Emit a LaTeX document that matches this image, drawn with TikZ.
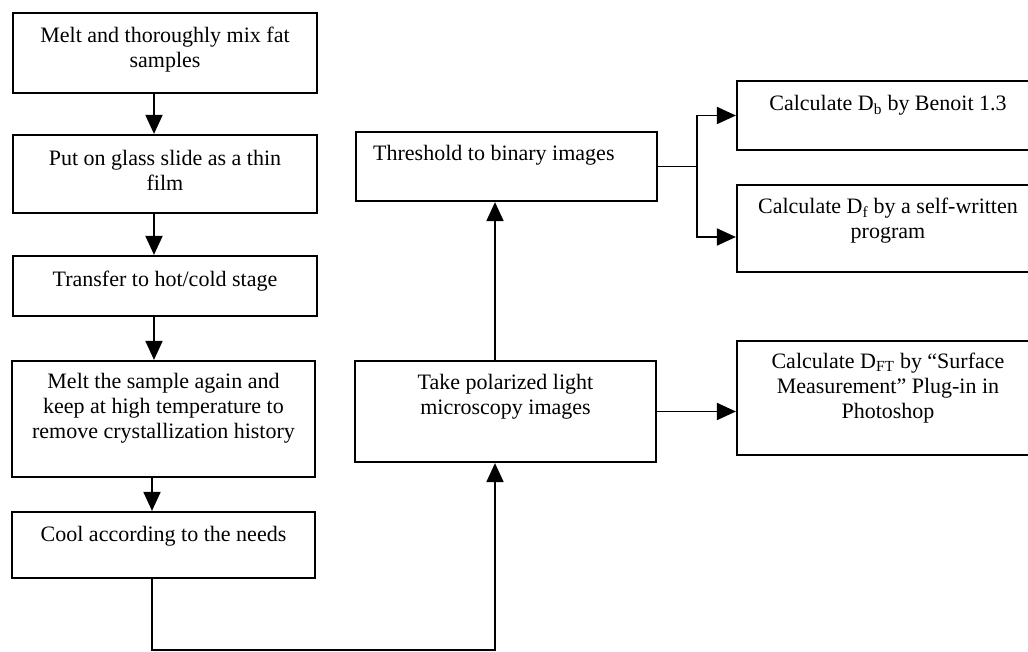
\documentclass[tikz,border=0pt]{standalone}
\usepackage{fontspec}
\setmainfont{Liberation Serif}
\usetikzlibrary{arrows.meta}
\begin{document}
\begin{tikzpicture}[x=1pt,y=-1pt,
  box/.style={draw, line width=2.2pt, inner sep=0pt},
  txt/.style={font=\fontsize{22}{25}\selectfont, align=center, inner sep=0pt, anchor=base},
  link/.style={line width=1.9pt},
  arr/.style={link, -{Triangle[width=17pt,length=19pt]}}]
\clip (0,0) rectangle (1028,652);
\fill[white] (0,0) rectangle (1028,652);
% boxes
\node[box, minimum width=304pt, minimum height=80pt]  (b1)  at (165,53) {};
\node[box, minimum width=304pt, minimum height=78pt]  (b2)  at (165,174) {};
\node[box, minimum width=304pt, minimum height=60pt]  (b3)  at (165,286) {};
\node[box, minimum width=303pt, minimum height=116pt] (b4)  at (163.5,419) {};
\node[box, minimum width=303pt, minimum height=66pt]  (b5)  at (163.5,545) {};
\node[box, minimum width=301pt, minimum height=101pt] (b6)  at (505.5,411.5) {};
\node[box, minimum width=301pt, minimum height=69pt]  (b7)  at (506.5,166.5) {};
\node[box, minimum width=302pt, minimum height=69pt]  (b8)  at (888,115.5) {};
\node[box, minimum width=302pt, minimum height=87pt]  (b9)  at (888,228.5) {};
\node[box, minimum width=302pt, minimum height=114pt] (b10) at (888,398) {};
% texts (base anchor = baseline of the last line)
\node[txt] (t1) at (165,68) {Melt and thoroughly mix fat\\samples};
\node[txt] (t2) at (165,191) {Put on glass slide as a thin\\film};
\node[txt] (t3) at (165,287) {Transfer to hot/cold stage};
\node[txt] (t4) at (163.5,438) {Melt the sample again and\\keep at high temperature to\\remove crystallization history};
\node[txt] (t5) at (163.5,541) {Cool according to the needs};
\node[txt] (t6) at (505.5,414) {Take polarized light\\microscopy images};
\node[txt, anchor=base west] (t7) at (373,161) {Threshold to binary images};
\node[txt] (t8) at (888,111) {Calculate D\textsubscript{b} by Benoit 1.3};
\node[txt] (t9) at (888,239) {Calculate D\textsubscript{f} by a self-written\\program};
\node[txt] (t10) at (888,418) {Calculate D\textsubscript{FT} by “Surface\\Measurement” Plug-in in\\Photoshop};
% connectors
\draw[arr] ([xshift=-11pt]b1.south) -- ([xshift=-11pt]b2.north);
\draw[arr] ([xshift=-11pt]b2.south) -- ([xshift=-11pt]b3.north);
\draw[arr] ([xshift=-11pt]b3.south) -- ([xshift=-11pt]b3.south |- b4.north);
\draw[arr] ([xshift=-11.5pt]b4.south) -- ([xshift=-11.5pt]b5.north);
\coordinate (c) at (495,650);
\draw[arr] ([xshift=-11.5pt]b5.south) |- (c) -- (c |- b6.south);
\draw[arr] (c |- b6.north) -- (c |- b7.south);
\coordinate (j) at (697,166.5);
\draw[link] (b7.east) -- (j);
\draw[arr] (j) |- (b8.west);
\draw[arr] (j) |- ([yshift=-8.5pt]b9.west);
\draw[arr] (b6.east) -- (b6.east -| b10.west);
\end{tikzpicture}
\end{document}
